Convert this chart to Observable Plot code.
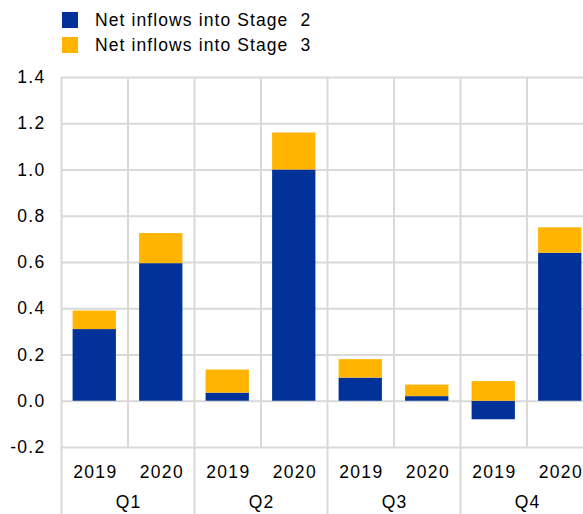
<!DOCTYPE html>
<html>
<head>
<meta charset="utf-8">
<script src="https://cdn.jsdelivr.net/npm/d3@7"></script>
<script src="https://cdn.jsdelivr.net/npm/@observablehq/plot@0.6"></script>
<style>
  body { margin: 0; background: #fff; }
  #wrap { position: relative; width: 583px; height: 514px; overflow: hidden; }
  #legend { position: absolute; left: 62px; top: 7.7px; font-family: "Liberation Sans", Arial, sans-serif; font-size: 17.5px; letter-spacing: 1.1px; color: #000; z-index: 2; }
  .item { display: flex; align-items: center; height: 25px; white-space: pre; }
  .sw { width: 15.5px; height: 16px; margin-right: 17.5px; }
  svg { display: block; }
  svg text { letter-spacing: 1.3px; }
</style>
</head>
<body>
<div id="wrap">
  <div id="legend"></div>
  <div id="chart"></div>
</div>
<script>
const quarters = ["Q1", "Q2", "Q3", "Q4"];
const years = ["2019", "2020"];
const stage2 = [0.31, 0.595, 0.035, 1.0, 0.10, 0.02, -0.08, 0.64];
const stage3 = [0.08, 0.13, 0.10, 0.16, 0.08, 0.05, 0.085, 0.11];
const seriesNames = ["Net inflows into Stage  2", "Net inflows into Stage  3"];
const colors = ["#003299", "#FFB400"];
const yTicks = [-0.2, 0, 0.2, 0.4, 0.6, 0.8, 1.0, 1.2, 1.4];

const rows = stage2.map((v, i) => ({
  i,
  quarter: quarters[Math.floor(i / 2)],
  year: years[i % 2],
  s2: v,
  s3: stage3[i],
  base3: Math.max(v, 0)
}));
const boundaries = d3.range(0, rows.length + 1);
const innerBounds = boundaries.filter(b => b % 2 === 1);
const groupBounds = boundaries.filter(b => b % 2 === 0);

const legend = document.getElementById("legend");
seriesNames.forEach((n, k) => {
  const it = document.createElement("div");
  it.className = "item";
  it.innerHTML = `<div class="sw" style="background:${colors[k]}"></div><span>${n}</span>`;
  legend.appendChild(it);
});

const grid = "#d9d9d9";
const chart = Plot.plot({
  width: 583,
  height: 514,
  marginLeft: 61,
  marginRight: 0,
  marginTop: 77,
  marginBottom: 0,
  style: { fontFamily: "'Liberation Sans', Arial, sans-serif", fontSize: "17.5px", color: "#000", background: "transparent" },
  x: { type: "linear", domain: [0, rows.length], range: [61, 593], axis: null },
  y: { domain: [-0.2, 1.4], range: [447, 77], axis: null },
  marks: [
    Plot.gridY(yTicks, { stroke: grid, strokeOpacity: 1, strokeWidth: 2 }),
    Plot.ruleX(innerBounds, { x: d => d, y1: -0.2, y2: 1.4, stroke: grid, strokeWidth: 2 }),
    Plot.ruleX(groupBounds, { x: d => d, stroke: grid, strokeWidth: 2 }),
    Plot.rectY(rows, { x1: d => d.i, x2: d => d.i + 1, y1: 0, y2: "s2", fill: colors[0], insetLeft: 11.6, insetRight: 11.6 }),
    Plot.rectY(rows, { x1: d => d.i, x2: d => d.i + 1, y1: "base3", y2: d => d.base3 + d.s3, fill: colors[1], insetLeft: 11.6, insetRight: 11.6 }),
    Plot.axisY(yTicks, { tickSize: 0, tickPadding: 16, tickFormat: d => d.toFixed(1), fontSize: 17.5, fill: "#000" }),
    Plot.text(rows, { x: d => d.i + 0.5, y: -0.2, dy: 24.5, dx: 0.6, text: "year", fontSize: 17.5, fill: "#000" }),
    Plot.text(quarters, { x: (d, i) => 2 * i + 1, y: -0.2, dy: 55, dx: 0.6, text: d => d, fontSize: 17.5, fill: "#000" })
  ]
});
document.getElementById("chart").appendChild(chart);
</script>
</body>
</html>
